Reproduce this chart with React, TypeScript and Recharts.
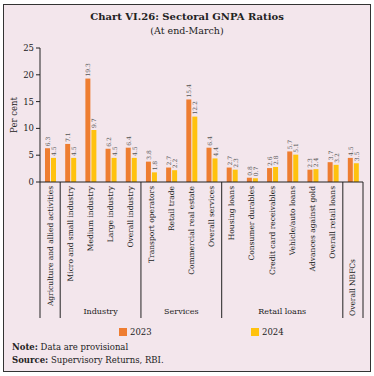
import React from 'react';
import { BarChart, Bar, XAxis, YAxis, LabelList } from 'recharts';

const categories = [
  'Agriculture and allied activities',
  'Micro and small industry',
  'Medium industry',
  'Large industry',
  'Overall industry',
  'Transport operators',
  'Retail trade',
  'Commercial real estate',
  'Overall services',
  'Housing loans',
  'Consumer durables',
  'Credit card receivables',
  'Vehicle/auto loans',
  'Advances against gold',
  'Overall retail loans',
  'Overall NBFCs',
];
const values2023 = [6.3, 7.1, 19.3, 6.2, 6.4, 3.8, 2.7, 15.4, 6.4, 2.7, 0.8, 2.6, 5.7, 2.3, 3.7, 4.5];
const values2024 = [4.5, 4.5, 9.7, 4.5, 4.5, 1.8, 2.2, 12.2, 4.4, 2.3, 0.7, 2.8, 5.1, 2.4, 3.2, 3.5];
const yTicks = [0, 5, 10, 15, 20, 25];
const groups = [
  { name: 'Industry', start: 1, end: 4 },
  { name: 'Services', start: 5, end: 8 },
  { name: 'Retail loans', start: 9, end: 14 },
];
const seriesNames = ['2023', '2024'];

const data = categories.map((c, i) => ({ name: c, v2023: values2023[i], v2024: values2024[i] }));

const W = 374;
const H = 376;
const PLOT_LEFT = 40;
const PLOT_RIGHT = 363;
const PLOT_TOP = 48;
const PLOT_BOTTOM = 182;
const AXIS_BOTTOM = 318;
const BAND = (PLOT_RIGHT - PLOT_LEFT) / categories.length;
const SERIF = '"DejaVu Serif", serif';
const ORANGE = '#EE7D31';
const YELLOW = '#FFC20E';
const BG = '#F3E6EC';

const sepStarts = [0, 1, 5, 9, 15];

const XTick = (props: any) => {
  const { x, payload, index } = props;
  const label = String(payload.value);
  const isLast = index === categories.length - 1;
  const els: any[] = [];
  if (isLast) {
    els.push(
      <text key="t" transform={`translate(${x},${AXIS_BOTTOM - 2}) rotate(-90)`} textAnchor="start"
        dominantBaseline="central" fontFamily={SERIF} fontSize={7.5} fill="#222">{label}</text>
    );
  } else {
    els.push(
      <text key="t" transform={`translate(${x},${PLOT_BOTTOM + 4}) rotate(-90)`} textAnchor="end"
        dominantBaseline="central" fontFamily={SERIF} fontSize={7.5} fill="#222">{label}</text>
    );
  }
  if (sepStarts.includes(index)) {
    els.push(<line key="s" x1={x - BAND / 2} x2={x - BAND / 2} y1={PLOT_BOTTOM} y2={AXIS_BOTTOM} stroke="#222" strokeWidth={1} />);
  }
  if (isLast) {
    els.push(<line key="e" x1={x + BAND / 2} x2={x + BAND / 2} y1={PLOT_BOTTOM} y2={AXIS_BOTTOM} stroke="#222" strokeWidth={1} />);
  }
  groups.forEach((g) => {
    const mid = (g.start + g.end) / 2;
    if (index === Math.floor(mid)) {
      const gx = x + (mid - index) * BAND;
      els.push(
        <text key={'g' + g.name} x={gx} y={AXIS_BOTTOM - 4} textAnchor="middle" fontFamily={SERIF} fontSize={8} fill="#222">{g.name}</text>
      );
    }
  });
  return <g>{els}</g>;
};

const YTick = (props: any) => {
  const { x, y, payload } = props;
  return (
    <g>
      <line x1={PLOT_LEFT - 4} x2={PLOT_LEFT} y1={y} y2={y} stroke="#222" strokeWidth={1} />
      <text x={PLOT_LEFT - 6} y={y} textAnchor="end" dominantBaseline="central" fontFamily={SERIF} fontSize={8.5} fill="#222">{payload.value}</text>
    </g>
  );
};

const BarLabel = (props: any) => {
  const { x, y, width, value } = props;
  const cx = x + width / 2;
  return (
    <text transform={`translate(${cx},${y - 2}) rotate(-90)`} textAnchor="start" dominantBaseline="central"
      fontFamily={SERIF} fontSize={6} fill="#555">{Number(value).toFixed(1)}</text>
  );
};

export default function App() {
  return (
    <div style={{ position: 'absolute', left: 0, top: 0, width: W, height: H, background: '#fff' }}>
      <div style={{ position: 'absolute', left: 3, top: 4, width: 366, height: 366, background: BG, border: '1.5px solid #333' }} />
      <div style={{ position: 'absolute', left: 0, top: 11, width: W, textAlign: 'center', fontFamily: SERIF, fontWeight: 'bold', fontSize: 10, color: '#222' }}>
        Chart VI.26: Sectoral GNPA Ratios
      </div>
      <div style={{ position: 'absolute', left: 0, top: 25, width: W, textAlign: 'center', fontFamily: SERIF, fontSize: 9.5, color: '#222' }}>
        (At end-March)
      </div>
      <div style={{ position: 'absolute', left: 0, top: 0 }}>
        <BarChart width={W} height={H} data={data}
          margin={{ top: PLOT_TOP, right: W - PLOT_RIGHT, left: 0, bottom: H - AXIS_BOTTOM }}
          barSize={5} barGap={1}>
          <YAxis type="number" width={PLOT_LEFT} domain={[0, 25]} ticks={yTicks} interval={0} tickLine={false}
            axisLine={{ stroke: '#222' }} tick={<YTick />} />
          <XAxis dataKey="name" interval={0} height={AXIS_BOTTOM - PLOT_BOTTOM} tickLine={false}
            axisLine={{ stroke: '#222' }} tick={<XTick />} />
          <Bar dataKey="v2023" name={seriesNames[0]} fill={ORANGE} isAnimationActive={false}>
            <LabelList dataKey="v2023" content={<BarLabel />} />
          </Bar>
          <Bar dataKey="v2024" name={seriesNames[1]} fill={YELLOW} isAnimationActive={false}>
            <LabelList dataKey="v2024" content={<BarLabel />} />
          </Bar>
        </BarChart>
      </div>
      <div style={{ position: 'absolute', left: 8, top: 115, width: 12, height: 0 }}>
        <div style={{ position: 'absolute', left: 0, top: 0, transform: 'translate(-50%,-50%) rotate(-90deg)', transformOrigin: 'center', whiteSpace: 'nowrap', fontFamily: SERIF, fontSize: 8.5, color: '#222', marginLeft: 6 }}>
          Per cent
        </div>
      </div>
      <div style={{ position: 'absolute', left: 0, top: 325, width: W, height: 14, fontFamily: SERIF, fontSize: 8.5, color: '#222' }}>
        {[ORANGE, YELLOW].map((c, i) => (
          <div key={i} style={{ position: 'absolute', left: i === 0 ? 119 : 251, top: 0, display: 'flex', alignItems: 'center', height: 14 }}>
            <span style={{ display: 'inline-block', width: 8, height: 8, background: c, marginRight: 3 }} />
            <span>{seriesNames[i]}</span>
          </div>
        ))}
      </div>
      <div style={{ position: 'absolute', left: 12, top: 341, fontFamily: SERIF, fontSize: 8.5, color: '#222', lineHeight: '12.5px' }}>
        <div><b>Note:</b> Data are provisional</div>
        <div><b>Source:</b> Supervisory Returns, RBI.</div>
      </div>
    </div>
  );
}
